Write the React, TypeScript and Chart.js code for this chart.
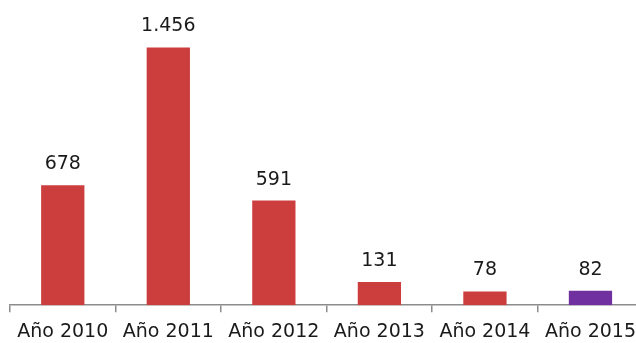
import React, { useEffect, useRef } from "react";
import { Chart, registerables } from "chart.js";
Chart.register(...registerables);

const categories = ["Año 2010", "Año 2011", "Año 2012", "Año 2013", "Año 2014", "Año 2015"];
const values = [678, 1456, 591, 131, 78, 82];
const valueLabels = ["678", "1.456", "591", "131", "78", "82"];
const barColors = ["#CC3D3D", "#CC3D3D", "#CC3D3D", "#CC3D3D", "#CC3D3D", "#7030A0"];

const FONT = "'DejaVu Sans', sans-serif";

const labelPlugin = {
  id: "valueLabels",
  afterDatasetsDraw(chart: any) {
    const ctx = chart.ctx;
    const meta = chart.getDatasetMeta(0);
    ctx.save();
    ctx.font = `19px ${FONT}`;
    ctx.fillStyle = "#1a1a1a";
    ctx.textAlign = "center";
    ctx.textBaseline = "alphabetic";
    meta.data.forEach((bar: any, i: number) => {
      ctx.fillText(valueLabels[i], bar.x, bar.y - 16);
    });
    ctx.restore();
  },
};

export default function App() {
  const ref = useRef<HTMLCanvasElement | null>(null);
  useEffect(() => {
    document.body.style.margin = "0";
    document.body.style.overflow = "hidden";
    const chart = new Chart(ref.current!, {
      type: "bar",
      data: {
        labels: categories,
        datasets: [
          {
            data: values,
            backgroundColor: barColors,
            barPercentage: 0.41,
            categoryPercentage: 1,
          },
        ],
      },
      options: {
        animation: false,
        responsive: false,
        maintainAspectRatio: false,
        layout: { padding: { left: 10, right: 0, top: 22, bottom: 4 } },
        plugins: { legend: { display: false }, tooltip: { enabled: false } },
        scales: {
          x: {
            offset: true,
            border: { display: true, color: "#8c8c8c", width: 1.5 },
            grid: {
              offset: true,
              drawOnChartArea: false,
              drawTicks: true,
              tickLength: 7,
              color: "#8c8c8c",
              lineWidth: 1.5,
            },
            ticks: {
              color: "#1a1a1a",
              font: { family: FONT, size: 19 },
              padding: 8,
              maxRotation: 0,
              autoSkip: false,
            },
          },
          y: {
            display: false,
            min: 0,
            max: 1600,
          },
        },
      },
      plugins: [labelPlugin],
    });
    return () => chart.destroy();
  }, []);
  return (
    <div style={{ position: "fixed", left: 0, top: 0, width: 636, height: 343, overflow: "hidden", background: "#fff" }}>
      <canvas ref={ref} width={644} height={355} style={{ display: "block" }} />
    </div>
  );
}
